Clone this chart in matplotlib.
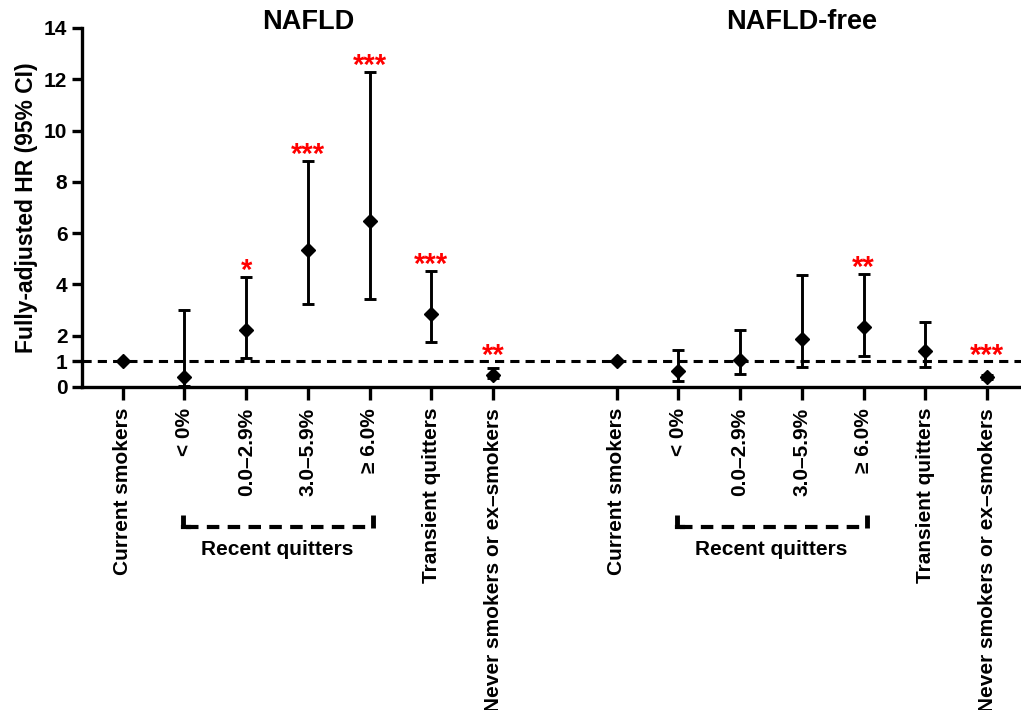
#!/usr/bin/env python3
"""
Fully-adjusted HR by smoking cessation group, NAFLD vs NAFLD-free.
"""
import matplotlib
matplotlib.use("Agg")
import matplotlib.pyplot as plt
import matplotlib.transforms as mtransforms

plt.rcParams['font.family'] = ['Liberation Sans', 'DejaVu Sans']
plt.rcParams['font.weight'] = 'bold'

# ---------------------------------------------------------
# Data
# ---------------------------------------------------------
categories = ["Current smokers", "< 0%", "0.0\u20132.9%", "3.0\u20135.9%",
              "\u2265 6.0%", "Transient quitters", "Never smokers or ex\u2013smokers"]

nafld_hr = [1.00, 0.40, 2.22, 5.34, 6.49, 2.83, 0.47]
nafld_lo = [1.00, 0.05, 1.14, 3.24, 3.42, 1.77, 0.35]
nafld_hi = [1.00, 3.00, 4.30, 8.81, 12.28, 4.54, 0.75]
nafld_sig = ["", "", "*", "***", "***", "***", "**"]

free_hr = [1.00, 0.62, 1.05, 1.87, 2.32, 1.42, 0.38]
free_lo = [1.00, 0.25, 0.50, 0.79, 1.21, 0.79, 0.30]
free_hi = [1.00, 1.44, 2.22, 4.36, 4.41, 2.55, 0.46]
free_sig = ["", "", "", "", "**", "", "***"]

panels = ["NAFLD", "NAFLD-free"]

# positions: 1..7 for left group, 9..15 for right group
pos_left = list(range(1, 8))
pos_right = list(range(9, 16))

fig = plt.figure(figsize=(10.21, 7.10), dpi=100)
ax = fig.add_axes([0.0803, 0.455, 0.9197, 0.5056])

def draw_group(pos, hr, lo, hi, sig):
    yerr = [[h - l for h, l in zip(hr, lo)], [u - h for h, u in zip(hr, hi)]]
    ax.errorbar(pos, hr, yerr=yerr, fmt='D', color='black', markersize=7,
                elinewidth=2.1, capsize=4, capthick=2.1, zorder=3)
    for x, u, s in zip(pos, hi, sig):
        if s:
            # keep stars clear of the HR=1 reference line
            ax.text(x, max(u - 0.32, 0.68), s, color='red', fontsize=21,
                    ha='center', va='bottom', fontweight='bold')

draw_group(pos_left, nafld_hr, nafld_lo, nafld_hi, nafld_sig)
draw_group(pos_right, free_hr, free_lo, free_hi, free_sig)

# reference line at HR = 1
ax.axhline(1, color='black', linestyle=(0, (3, 2)), linewidth=2.2, zorder=2)

ax.set_xlim(0.34, 15.55)
ax.set_ylim(0, 14)
ax.set_yticks([0, 1, 2, 4, 6, 8, 10, 12, 14])
ax.set_xticks(pos_left + pos_right)
ax.set_xticklabels(categories + categories, rotation=90, fontsize=15,
                   fontweight='bold', va='top')
ax.tick_params(axis='y', labelsize=15, width=2.4, length=7)
ax.tick_params(axis='x', width=2.4, length=9, pad=6)
for lbl in ax.get_yticklabels():
    lbl.set_fontweight('bold')

ax.spines['top'].set_visible(False)
ax.spines['right'].set_visible(False)
ax.spines['left'].set_linewidth(2.4)
ax.spines['bottom'].set_linewidth(2.4)

ax.set_ylabel("Fully-adjusted HR (95% CI)", fontsize=16.5, fontweight='bold', labelpad=4)

# panel titles
trans = mtransforms.blended_transform_factory(ax.transData, ax.transAxes)
ax.text(4, 1.017, panels[0], transform=trans, ha='center', va='center',
        fontsize=19.5, fontweight='bold')
ax.text(12, 1.017, panels[1], transform=trans, ha='center', va='center',
        fontsize=19.5, fontweight='bold')

# "Recent quitters" brackets
for start in (2, 10):
    x0, x1 = start - 0.03, start + 3.05
    ax.plot([x0 + 0.05, x1 - 0.05], [-0.39, -0.39], transform=trans,
            color='black', linewidth=3, linestyle=(0, (3, 2)), clip_on=False)
    for xe in (x0, x1):
        ax.plot([xe, xe], [-0.358, -0.392], transform=trans, color='black',
                linewidth=3.5, clip_on=False, solid_capstyle='butt')
    ax.plot([x0, x0 + 0.1], [-0.39, -0.39], transform=trans, color='black',
            linewidth=3, clip_on=False)
    ax.text(start + 1.5, -0.454, "Recent quitters", transform=trans, ha='center',
            va='center', fontsize=15, fontweight='bold')

fig.savefig("out.png", dpi=100)
print("Generated out.png")
